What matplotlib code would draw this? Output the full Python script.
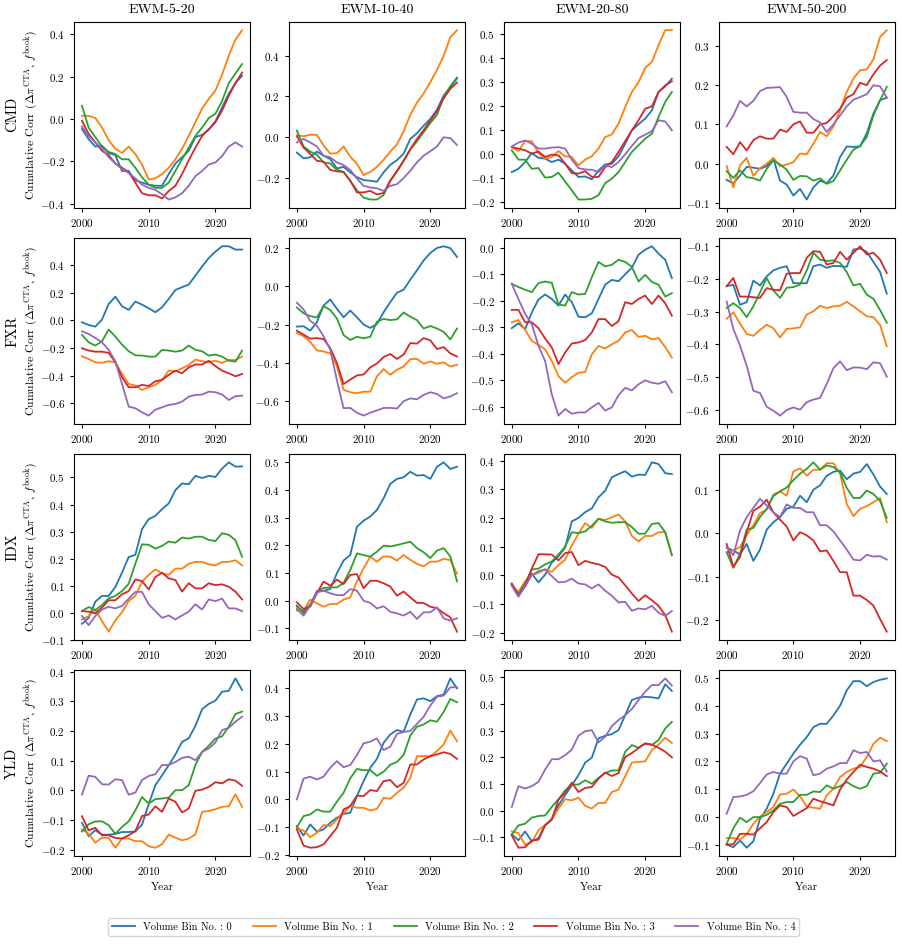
import matplotlib
matplotlib.use("Agg")
import matplotlib.pyplot as plt

plt.rcParams["font.family"] = "serif"
plt.rcParams["font.serif"] = ["cmr10", "DejaVu Serif"]
plt.rcParams["mathtext.fontset"] = "cm"
plt.rcParams["axes.formatter.use_mathtext"] = True
plt.rcParams["axes.unicode_minus"] = True

YEARS = list(range(2000, 2025))
ASSETS = ["CMD", "FXR", "IDX", "YLD"]
SIGNALS = ["EWM-5-20", "EWM-10-40", "EWM-20-80", "EWM-50-200"]
BIN_LABELS = ["Volume Bin No. : 0", "Volume Bin No. : 1", "Volume Bin No. : 2",
              "Volume Bin No. : 3", "Volume Bin No. : 4"]

# ── CMD ──────────────────────────────────────────────────────────
CMD_5_20 = [
    [-0.047, -0.095, -0.13, -0.125, -0.16, -0.17, -0.245, -0.245, -0.29, -0.30, -0.31, -0.315, -0.315, -0.26, -0.21, -0.18, -0.15, -0.085, -0.075, -0.05, -0.01, 0.055, 0.12, 0.17, 0.205],
    [0.016, 0.015, 0.005, -0.04, -0.10, -0.14, -0.16, -0.13, -0.165, -0.215, -0.285, -0.28, -0.26, -0.23, -0.19, -0.14, -0.08, -0.015, 0.05, 0.095, 0.135, 0.21, 0.30, 0.375, 0.42],
    [0.063, -0.04, -0.085, -0.13, -0.155, -0.165, -0.19, -0.19, -0.23, -0.275, -0.31, -0.325, -0.325, -0.30, -0.245, -0.19, -0.135, -0.08, -0.04, 0.005, 0.025, 0.085, 0.17, 0.215, 0.26],
    [-0.008, -0.07, -0.11, -0.15, -0.17, -0.21, -0.23, -0.25, -0.30, -0.35, -0.36, -0.36, -0.375, -0.34, -0.315, -0.26, -0.195, -0.135, -0.08, -0.048, -0.015, 0.04, 0.11, 0.17, 0.22],
    [-0.035, -0.08, -0.11, -0.14, -0.18, -0.21, -0.235, -0.255, -0.28, -0.31, -0.325, -0.335, -0.355, -0.38, -0.37, -0.35, -0.315, -0.27, -0.245, -0.215, -0.205, -0.175, -0.13, -0.11, -0.13],
]
CMD_10_40 = [
    [-0.075, -0.103, -0.098, -0.07, -0.09, -0.107, -0.153, -0.145, -0.172, -0.195, -0.21, -0.213, -0.218, -0.172, -0.135, -0.112, -0.08, -0.008, 0.02, 0.057, 0.09, 0.135, 0.205, 0.245, 0.288],
    [0.01, 0.005, 0.013, 0.012, -0.04, -0.08, -0.078, -0.045, -0.095, -0.13, -0.185, -0.17, -0.145, -0.11, -0.07, -0.035, 0.03, 0.11, 0.17, 0.215, 0.27, 0.33, 0.40, 0.49, 0.525],
    [0.033, -0.045, -0.07, -0.085, -0.123, -0.128, -0.16, -0.17, -0.213, -0.26, -0.296, -0.305, -0.305, -0.283, -0.213, -0.168, -0.115, -0.06, -0.02, 0.025, 0.07, 0.11, 0.197, 0.25, 0.293],
    [0.005, -0.05, -0.082, -0.115, -0.12, -0.16, -0.167, -0.17, -0.213, -0.27, -0.27, -0.263, -0.28, -0.273, -0.213, -0.165, -0.115, -0.058, -0.008, 0.035, 0.082, 0.127, 0.19, 0.238, 0.268],
    [-0.025, -0.008, -0.025, -0.045, -0.09, -0.098, -0.123, -0.136, -0.16, -0.202, -0.238, -0.246, -0.25, -0.263, -0.238, -0.23, -0.2, -0.164, -0.123, -0.09, -0.068, -0.045, 0.0, -0.004, -0.038],
]
CMD_20_80 = [
    [-0.074, -0.06, -0.032, 0.005, -0.014, -0.018, -0.032, -0.022, -0.039, -0.067, -0.094, -0.092, -0.104, -0.067, -0.042, -0.039, -0.008, 0.044, 0.1, 0.125, 0.149, 0.183, 0.26, 0.283, 0.315],
    [0.03, 0.014, 0.055, 0.055, 0.005, -0.018, -0.011, 0.014, -0.008, -0.011, -0.046, -0.022, -0.008, 0.024, 0.072, 0.083, 0.128, 0.197, 0.26, 0.30, 0.36, 0.385, 0.455, 0.517, 0.517],
    [0.017, -0.022, -0.022, -0.06, -0.057, -0.097, -0.094, -0.076, -0.113, -0.15, -0.188, -0.188, -0.185, -0.17, -0.12, -0.101, -0.074, -0.032, 0.01, 0.038, 0.065, 0.086, 0.156, 0.218, 0.26],
    [0.03, 0.024, 0.017, 0.003, 0.012, -0.011, -0.001, -0.004, -0.039, -0.078, -0.08, -0.07, -0.094, -0.094, -0.053, -0.032, 0.01, 0.055, 0.1, 0.142, 0.19, 0.2, 0.26, 0.287, 0.304],
    [0.033, 0.049, 0.058, 0.044, 0.024, 0.024, 0.028, 0.03, 0.024, -0.022, -0.057, -0.063, -0.064, -0.074, -0.046, -0.053, -0.032, 0.0, 0.035, 0.068, 0.082, 0.097, 0.142, 0.137, 0.1],
]
CMD_50_200 = [
    [-0.041, -0.05, -0.03, -0.008, -0.01, -0.013, -0.006, 0.013, -0.043, -0.053, -0.081, -0.064, -0.091, -0.06, -0.043, -0.05, -0.03, 0.017, 0.044, 0.043, 0.044, 0.078, 0.128, 0.162, 0.168],
    [-0.006, -0.06, -0.004, 0.015, -0.031, -0.011, 0.0, 0.015, -0.006, -0.002, 0.004, 0.026, 0.024, 0.051, 0.081, 0.07, 0.095, 0.136, 0.183, 0.217, 0.238, 0.24, 0.266, 0.323, 0.34],
    [-0.019, -0.036, -0.017, -0.034, -0.037, -0.043, -0.013, 0.009, -0.002, -0.015, -0.041, -0.031, -0.032, -0.043, -0.037, -0.051, -0.044, -0.017, 0.01, 0.036, 0.045, 0.068, 0.123, 0.162, 0.196],
    [0.043, 0.024, 0.055, 0.034, 0.06, 0.07, 0.064, 0.064, 0.087, 0.081, 0.1, 0.108, 0.079, 0.079, 0.1, 0.104, 0.121, 0.14, 0.168, 0.177, 0.206, 0.2, 0.228, 0.25, 0.264],
    [0.095, 0.123, 0.16, 0.146, 0.16, 0.185, 0.193, 0.194, 0.195, 0.17, 0.132, 0.13, 0.13, 0.114, 0.105, 0.081, 0.1, 0.123, 0.146, 0.163, 0.17, 0.177, 0.2, 0.197, 0.168],
]

# ── FXR ──────────────────────────────────────────────────────────
FXR_5_20 = [
    [-0.014, -0.034, -0.046, 0.005, 0.118, 0.171, 0.101, 0.075, 0.135, 0.113, 0.087, 0.058, 0.094, 0.154, 0.219, 0.239, 0.258, 0.323, 0.388, 0.45, 0.496, 0.535, 0.535, 0.511, 0.511],
    [-0.26, -0.28, -0.304, -0.308, -0.296, -0.304, -0.388, -0.46, -0.472, -0.504, -0.484, -0.467, -0.431, -0.364, -0.369, -0.347, -0.323, -0.284, -0.296, -0.304, -0.292, -0.308, -0.287, -0.287, -0.263],
    [-0.106, -0.159, -0.183, -0.152, -0.067, -0.118, -0.176, -0.224, -0.253, -0.255, -0.263, -0.263, -0.214, -0.219, -0.227, -0.219, -0.183, -0.214, -0.224, -0.255, -0.248, -0.263, -0.292, -0.299, -0.219],
    [-0.202, -0.219, -0.227, -0.227, -0.236, -0.304, -0.412, -0.484, -0.484, -0.467, -0.475, -0.441, -0.431, -0.395, -0.364, -0.383, -0.34, -0.32, -0.32, -0.292, -0.332, -0.364, -0.383, -0.405, -0.388],
    [-0.08, -0.099, -0.128, -0.159, -0.214, -0.296, -0.46, -0.624, -0.636, -0.665, -0.689, -0.646, -0.629, -0.612, -0.605, -0.588, -0.552, -0.54, -0.537, -0.516, -0.52, -0.537, -0.576, -0.549, -0.545],
]
FXR_10_40 = [
    [-0.21, -0.208, -0.231, -0.187, -0.1, -0.068, -0.117, -0.161, -0.126, -0.161, -0.199, -0.217, -0.196, -0.135, -0.082, -0.033, -0.017, 0.035, 0.084, 0.136, 0.175, 0.201, 0.21, 0.2, 0.154],
    [-0.243, -0.26, -0.29, -0.334, -0.34, -0.35, -0.417, -0.54, -0.553, -0.558, -0.55, -0.55, -0.47, -0.432, -0.462, -0.436, -0.418, -0.38, -0.378, -0.404, -0.392, -0.404, -0.397, -0.418, -0.41],
    [-0.11, -0.14, -0.155, -0.162, -0.103, -0.123, -0.167, -0.254, -0.28, -0.263, -0.271, -0.263, -0.184, -0.17, -0.176, -0.172, -0.136, -0.158, -0.176, -0.22, -0.207, -0.22, -0.237, -0.277, -0.22],
    [-0.231, -0.252, -0.273, -0.27, -0.275, -0.322, -0.4, -0.51, -0.487, -0.465, -0.46, -0.423, -0.403, -0.369, -0.353, -0.379, -0.356, -0.296, -0.299, -0.27, -0.282, -0.327, -0.317, -0.35, -0.366],
    [-0.085, -0.12, -0.18, -0.205, -0.26, -0.33, -0.49, -0.636, -0.635, -0.66, -0.675, -0.66, -0.648, -0.635, -0.635, -0.638, -0.6, -0.585, -0.59, -0.567, -0.553, -0.562, -0.585, -0.575, -0.558],
]
FXR_20_80 = [
    [-0.304, -0.286, -0.308, -0.245, -0.196, -0.177, -0.194, -0.219, -0.177, -0.206, -0.261, -0.263, -0.248, -0.194, -0.14, -0.122, -0.127, -0.101, -0.076, -0.027, -0.008, 0.005, -0.023, -0.046, -0.115],
    [-0.282, -0.273, -0.311, -0.352, -0.367, -0.384, -0.428, -0.485, -0.51, -0.489, -0.472, -0.47, -0.403, -0.371, -0.381, -0.365, -0.352, -0.32, -0.311, -0.337, -0.333, -0.346, -0.342, -0.375, -0.415],
    [-0.137, -0.149, -0.159, -0.168, -0.134, -0.128, -0.133, -0.215, -0.219, -0.168, -0.177, -0.175, -0.112, -0.054, -0.071, -0.065, -0.046, -0.054, -0.073, -0.128, -0.103, -0.13, -0.14, -0.185, -0.172],
    [-0.235, -0.235, -0.282, -0.282, -0.304, -0.343, -0.377, -0.44, -0.396, -0.362, -0.358, -0.349, -0.32, -0.27, -0.27, -0.296, -0.278, -0.206, -0.213, -0.194, -0.181, -0.213, -0.181, -0.21, -0.257],
    [-0.137, -0.194, -0.25, -0.289, -0.371, -0.428, -0.554, -0.634, -0.609, -0.627, -0.622, -0.622, -0.603, -0.586, -0.615, -0.603, -0.557, -0.529, -0.539, -0.516, -0.501, -0.51, -0.514, -0.504, -0.546],
]
FXR_50_200 = [
    [-0.222, -0.218, -0.279, -0.271, -0.205, -0.22, -0.192, -0.174, -0.166, -0.161, -0.213, -0.213, -0.213, -0.161, -0.156, -0.166, -0.16, -0.161, -0.163, -0.11, -0.107, -0.117, -0.148, -0.179, -0.245],
    [-0.322, -0.302, -0.336, -0.368, -0.374, -0.356, -0.34, -0.351, -0.379, -0.353, -0.351, -0.348, -0.309, -0.299, -0.282, -0.289, -0.284, -0.282, -0.27, -0.284, -0.299, -0.314, -0.317, -0.341, -0.406],
    [-0.289, -0.274, -0.289, -0.317, -0.284, -0.241, -0.197, -0.235, -0.258, -0.227, -0.225, -0.217, -0.174, -0.12, -0.141, -0.145, -0.143, -0.151, -0.179, -0.22, -0.215, -0.248, -0.261, -0.295, -0.334],
    [-0.222, -0.197, -0.254, -0.254, -0.256, -0.258, -0.228, -0.233, -0.235, -0.184, -0.182, -0.182, -0.135, -0.115, -0.117, -0.156, -0.151, -0.117, -0.141, -0.12, -0.1, -0.125, -0.12, -0.141, -0.182],
    [-0.269, -0.353, -0.404, -0.465, -0.542, -0.549, -0.591, -0.603, -0.618, -0.601, -0.593, -0.6, -0.577, -0.569, -0.564, -0.521, -0.473, -0.452, -0.479, -0.471, -0.471, -0.476, -0.455, -0.458, -0.499],
]

# ── IDX ──────────────────────────────────────────────────────────
IDX_5_20 = [
    [-0.041, -0.019, 0.041, 0.062, 0.062, 0.095, 0.148, 0.206, 0.214, 0.309, 0.346, 0.358, 0.383, 0.404, 0.453, 0.478, 0.475, 0.506, 0.498, 0.506, 0.502, 0.533, 0.556, 0.54, 0.541],
    [-0.025, -0.012, 0.012, -0.031, -0.07, -0.028, 0.002, 0.043, 0.062, 0.115, 0.14, 0.16, 0.146, 0.14, 0.163, 0.163, 0.181, 0.188, 0.188, 0.179, 0.175, 0.188, 0.188, 0.194, 0.175],
    [0.006, 0.021, 0.01, 0.028, 0.053, 0.062, 0.08, 0.107, 0.181, 0.253, 0.251, 0.237, 0.247, 0.263, 0.259, 0.278, 0.274, 0.281, 0.281, 0.269, 0.265, 0.294, 0.288, 0.268, 0.207],
    [0.006, 0.004, -0.002, 0.019, 0.046, 0.046, 0.068, 0.08, 0.123, 0.117, 0.086, 0.132, 0.148, 0.127, 0.121, 0.078, 0.109, 0.09, 0.09, 0.109, 0.102, 0.105, 0.096, 0.078, 0.049],
    [-0.012, -0.046, -0.012, 0.012, 0.022, 0.016, 0.025, 0.052, 0.077, 0.077, 0.031, 0.006, -0.019, -0.01, -0.025, -0.01, 0.004, 0.031, 0.012, 0.049, 0.043, 0.052, 0.016, 0.016, 0.006],
]
IDX_10_40 = [
    [-0.018, -0.045, -0.018, 0.034, 0.036, 0.042, 0.099, 0.145, 0.165, 0.267, 0.289, 0.304, 0.328, 0.37, 0.422, 0.44, 0.446, 0.466, 0.452, 0.454, 0.44, 0.484, 0.5, 0.476, 0.484],
    [-0.036, -0.036, 0.004, -0.01, -0.022, -0.012, -0.012, 0.004, 0.012, 0.069, 0.117, 0.159, 0.141, 0.16, 0.159, 0.145, 0.165, 0.148, 0.133, 0.124, 0.141, 0.141, 0.151, 0.147, 0.098],
    [-0.022, -0.039, -0.014, 0.033, 0.046, 0.048, 0.048, 0.064, 0.111, 0.171, 0.165, 0.159, 0.177, 0.199, 0.196, 0.201, 0.207, 0.213, 0.19, 0.175, 0.154, 0.181, 0.19, 0.16, 0.07],
    [-0.006, -0.03, -0.022, 0.027, 0.069, 0.054, 0.076, 0.06, 0.093, 0.096, 0.045, 0.072, 0.072, 0.063, 0.051, 0.018, 0.033, 0.012, -0.008, -0.008, -0.022, -0.027, -0.045, -0.06, -0.112],
    [-0.03, -0.054, -0.018, 0.03, 0.036, 0.027, 0.02, 0.02, 0.042, 0.036, 0.0, -0.008, -0.028, -0.02, -0.04, -0.046, -0.054, -0.04, -0.066, -0.042, -0.042, -0.024, -0.064, -0.072, -0.064],
]
IDX_20_80 = [
    [-0.032, -0.07, -0.04, 0.006, -0.025, 0.002, 0.044, 0.066, 0.096, 0.188, 0.2, 0.22, 0.233, 0.272, 0.295, 0.342, 0.353, 0.363, 0.344, 0.351, 0.35, 0.394, 0.388, 0.356, 0.353],
    [-0.035, -0.058, -0.021, 0.0, 0.008, 0.021, 0.012, 0.035, 0.054, 0.104, 0.145, 0.182, 0.165, 0.197, 0.193, 0.202, 0.212, 0.188, 0.137, 0.118, 0.137, 0.137, 0.15, 0.15, 0.07],
    [-0.031, -0.066, -0.029, 0.02, 0.023, 0.038, 0.048, 0.072, 0.1, 0.15, 0.147, 0.153, 0.173, 0.197, 0.188, 0.183, 0.185, 0.185, 0.168, 0.145, 0.145, 0.179, 0.182, 0.15, 0.07],
    [-0.029, -0.07, -0.035, 0.023, 0.073, 0.073, 0.072, 0.052, 0.077, 0.081, 0.035, 0.05, 0.043, 0.038, 0.029, 0.002, -0.008, -0.035, -0.064, -0.09, -0.07, -0.087, -0.107, -0.139, -0.197],
    [-0.037, -0.075, -0.038, 0.0, 0.014, 0.02, -0.003, -0.025, -0.023, -0.012, -0.029, -0.032, -0.046, -0.032, -0.054, -0.072, -0.095, -0.093, -0.124, -0.116, -0.119, -0.107, -0.131, -0.142, -0.125],
]
IDX_50_200 = [
    [-0.034, -0.04, -0.049, -0.025, -0.064, -0.038, 0.008, 0.025, 0.037, 0.056, 0.061, 0.086, 0.071, 0.1, 0.11, 0.132, 0.141, 0.144, 0.124, 0.137, 0.141, 0.159, 0.135, 0.107, 0.09],
    [-0.044, -0.04, -0.032, -0.005, 0.018, 0.046, 0.054, 0.089, 0.096, 0.086, 0.142, 0.149, 0.132, 0.146, 0.146, 0.161, 0.161, 0.137, 0.067, 0.039, 0.056, 0.062, 0.071, 0.081, 0.025],
    [-0.044, -0.08, -0.048, 0.008, 0.012, 0.037, 0.056, 0.085, 0.096, 0.105, 0.122, 0.137, 0.148, 0.163, 0.146, 0.156, 0.152, 0.14, 0.104, 0.081, 0.081, 0.098, 0.09, 0.074, 0.035],
    [-0.025, -0.078, -0.055, 0.002, 0.051, 0.061, 0.077, 0.048, 0.031, 0.015, -0.017, 0.002, -0.005, -0.017, -0.042, -0.04, -0.064, -0.09, -0.09, -0.144, -0.144, -0.154, -0.167, -0.198, -0.227],
    [-0.032, -0.051, 0.006, 0.037, 0.058, 0.079, 0.064, 0.048, 0.037, 0.066, 0.058, 0.058, 0.048, 0.048, 0.018, 0.018, 0.004, -0.017, -0.038, -0.061, -0.063, -0.05, -0.054, -0.053, -0.061],
]

# ── YLD ──────────────────────────────────────────────────────────
YLD_5_20 = [
    [-0.11, -0.155, -0.135, -0.15, -0.15, -0.147, -0.141, -0.141, -0.139, -0.116, -0.047, 0.017, 0.05, 0.084, 0.12, 0.163, 0.175, 0.217, 0.273, 0.291, 0.302, 0.332, 0.335, 0.377, 0.338],
    [-0.132, -0.147, -0.177, -0.16, -0.161, -0.194, -0.163, -0.163, -0.172, -0.172, -0.189, -0.194, -0.182, -0.15, -0.16, -0.169, -0.163, -0.149, -0.073, -0.07, -0.064, -0.056, -0.054, -0.014, -0.056],
    [-0.139, -0.115, -0.105, -0.105, -0.118, -0.147, -0.124, -0.105, -0.068, -0.023, -0.045, -0.03, -0.028, -0.025, 0.0, 0.0, 0.017, 0.085, 0.129, 0.15, 0.174, 0.182, 0.214, 0.257, 0.265],
    [-0.088, -0.135, -0.127, -0.152, -0.152, -0.161, -0.163, -0.152, -0.138, -0.087, -0.082, -0.054, -0.073, -0.028, -0.039, -0.075, -0.062, -0.002, 0.002, 0.011, 0.027, 0.023, 0.037, 0.032, 0.015],
    [-0.015, 0.049, 0.045, 0.02, 0.019, 0.037, 0.034, -0.015, -0.008, 0.034, 0.048, 0.054, 0.085, 0.085, 0.095, 0.109, 0.113, 0.101, 0.129, 0.141, 0.161, 0.203, 0.21, 0.231, 0.248],
]
YLD_10_40 = [
    [-0.096, -0.13, -0.09, -0.116, -0.108, -0.084, -0.066, -0.052, -0.048, 0.012, 0.066, 0.114, 0.146, 0.204, 0.234, 0.25, 0.244, 0.306, 0.36, 0.364, 0.354, 0.372, 0.378, 0.436, 0.4],
    [-0.104, -0.112, -0.136, -0.12, -0.092, -0.096, -0.072, -0.048, -0.024, -0.03, -0.03, -0.04, -0.034, 0.006, 0.002, 0.024, 0.042, 0.078, 0.156, 0.156, 0.156, 0.174, 0.198, 0.248, 0.21],
    [-0.1, -0.06, -0.054, -0.036, -0.044, -0.044, -0.008, 0.024, 0.076, 0.11, 0.105, 0.106, 0.085, 0.1, 0.125, 0.135, 0.16, 0.23, 0.262, 0.27, 0.285, 0.28, 0.315, 0.362, 0.35],
    [-0.108, -0.166, -0.174, -0.172, -0.162, -0.132, -0.102, -0.036, -0.024, 0.014, 0.012, 0.034, 0.03, 0.066, 0.07, 0.044, 0.06, 0.126, 0.126, 0.144, 0.156, 0.162, 0.17, 0.164, 0.146],
    [0.0, 0.075, 0.082, 0.072, 0.082, 0.114, 0.138, 0.116, 0.124, 0.16, 0.202, 0.208, 0.22, 0.178, 0.19, 0.236, 0.243, 0.247, 0.272, 0.298, 0.338, 0.37, 0.374, 0.404, 0.404],
]
YLD_20_80 = [
    [-0.089, -0.111, -0.078, -0.115, -0.103, -0.055, -0.03, 0.02, 0.058, 0.095, 0.133, 0.18, 0.199, 0.271, 0.281, 0.287, 0.302, 0.358, 0.415, 0.424, 0.427, 0.425, 0.421, 0.474, 0.449],
    [-0.078, -0.084, -0.128, -0.118, -0.074, -0.053, -0.033, 0.008, 0.043, 0.039, 0.049, 0.018, 0.008, 0.029, 0.029, 0.07, 0.079, 0.129, 0.18, 0.183, 0.185, 0.227, 0.248, 0.274, 0.254],
    [-0.09, -0.055, -0.049, -0.026, -0.02, -0.018, 0.014, 0.043, 0.076, 0.098, 0.098, 0.114, 0.101, 0.123, 0.141, 0.151, 0.151, 0.221, 0.246, 0.236, 0.252, 0.246, 0.265, 0.308, 0.333],
    [-0.093, -0.139, -0.137, -0.112, -0.109, -0.055, -0.034, 0.041, 0.068, 0.105, 0.07, 0.085, 0.089, 0.12, 0.143, 0.13, 0.141, 0.201, 0.216, 0.235, 0.252, 0.248, 0.236, 0.221, 0.2],
    [0.014, 0.092, 0.083, 0.092, 0.108, 0.154, 0.193, 0.193, 0.208, 0.229, 0.281, 0.298, 0.302, 0.256, 0.277, 0.317, 0.34, 0.358, 0.381, 0.415, 0.446, 0.471, 0.471, 0.496, 0.469],
]
YLD_50_200 = [
    [-0.099, -0.108, -0.084, -0.11, -0.087, -0.006, 0.03, 0.084, 0.156, 0.192, 0.228, 0.26, 0.287, 0.323, 0.335, 0.335, 0.365, 0.4, 0.455, 0.488, 0.488, 0.47, 0.485, 0.493, 0.498],
    [-0.075, -0.075, -0.081, -0.062, -0.024, 0.002, 0.018, 0.036, 0.081, 0.084, 0.099, 0.075, 0.038, 0.034, 0.03, 0.078, 0.102, 0.144, 0.162, 0.174, 0.18, 0.216, 0.263, 0.285, 0.273],
    [-0.096, -0.04, -0.002, -0.018, 0.0, 0.0, 0.008, 0.024, 0.048, 0.054, 0.054, 0.08, 0.08, 0.092, 0.09, 0.114, 0.102, 0.111, 0.126, 0.111, 0.102, 0.111, 0.156, 0.159, 0.192],
    [-0.098, -0.098, -0.06, -0.06, -0.063, -0.04, -0.018, 0.018, 0.042, 0.036, 0.004, 0.018, 0.032, 0.066, 0.057, 0.05, 0.042, 0.099, 0.135, 0.162, 0.188, 0.18, 0.174, 0.164, 0.147],
    [0.012, 0.072, 0.074, 0.08, 0.093, 0.122, 0.153, 0.162, 0.156, 0.156, 0.2, 0.219, 0.21, 0.15, 0.156, 0.174, 0.182, 0.194, 0.194, 0.24, 0.23, 0.234, 0.2, 0.204, 0.164],
]

PANELS = [
    [CMD_5_20, CMD_10_40, CMD_20_80, CMD_50_200],
    [FXR_5_20, FXR_10_40, FXR_20_80, FXR_50_200],
    [IDX_5_20, IDX_10_40, IDX_20_80, IDX_50_200],
    [YLD_5_20, YLD_10_40, YLD_20_80, YLD_50_200],
]

COLORS = ["#1f77b4", "#ff7f0e", "#2ca02c", "#d62728", "#9467bd"]

fig, axes = plt.subplots(4, 4, figsize=(9.02, 9.44), dpi=100)
fig.subplots_adjust(left=0.082, right=0.992, top=0.977, bottom=0.093,
                    wspace=0.22, hspace=0.16)

ylab = r"Cumulative Corr $(\Delta\pi^{\mathrm{CTA}},\, f^{\mathrm{book}})$"

for i, asset in enumerate(ASSETS):
    for j, sig in enumerate(SIGNALS):
        ax = axes[i, j]
        for k, series in enumerate(PANELS[i][j]):
            ax.plot(YEARS, series, color=COLORS[k], lw=1.3, label=BIN_LABELS[k])
        ax.set_xticks([2000, 2010, 2020])
        ax.tick_params(labelsize=8, length=3)
        if i == 0:
            ax.set_title(sig, fontsize=10)
        if i == 3:
            ax.set_xlabel("Year", fontsize=8)
        if j == 0:
            ax.set_ylabel(ylab, fontsize=8.5)
            ax.yaxis.set_label_coords(-0.19, 0.5)
            ax.text(-0.35, 0.5, asset, transform=ax.transAxes, rotation=90,
                    ha="center", va="center", fontsize=10.5)

handles, labels = axes[0, 0].get_legend_handles_labels()
fig.legend(handles, labels, loc="center", bbox_to_anchor=(0.503, 0.018),
           ncol=5, fontsize=7.5, frameon=True, handlelength=2.2,
           columnspacing=2.0)

fig.savefig("out.png", dpi=100)
